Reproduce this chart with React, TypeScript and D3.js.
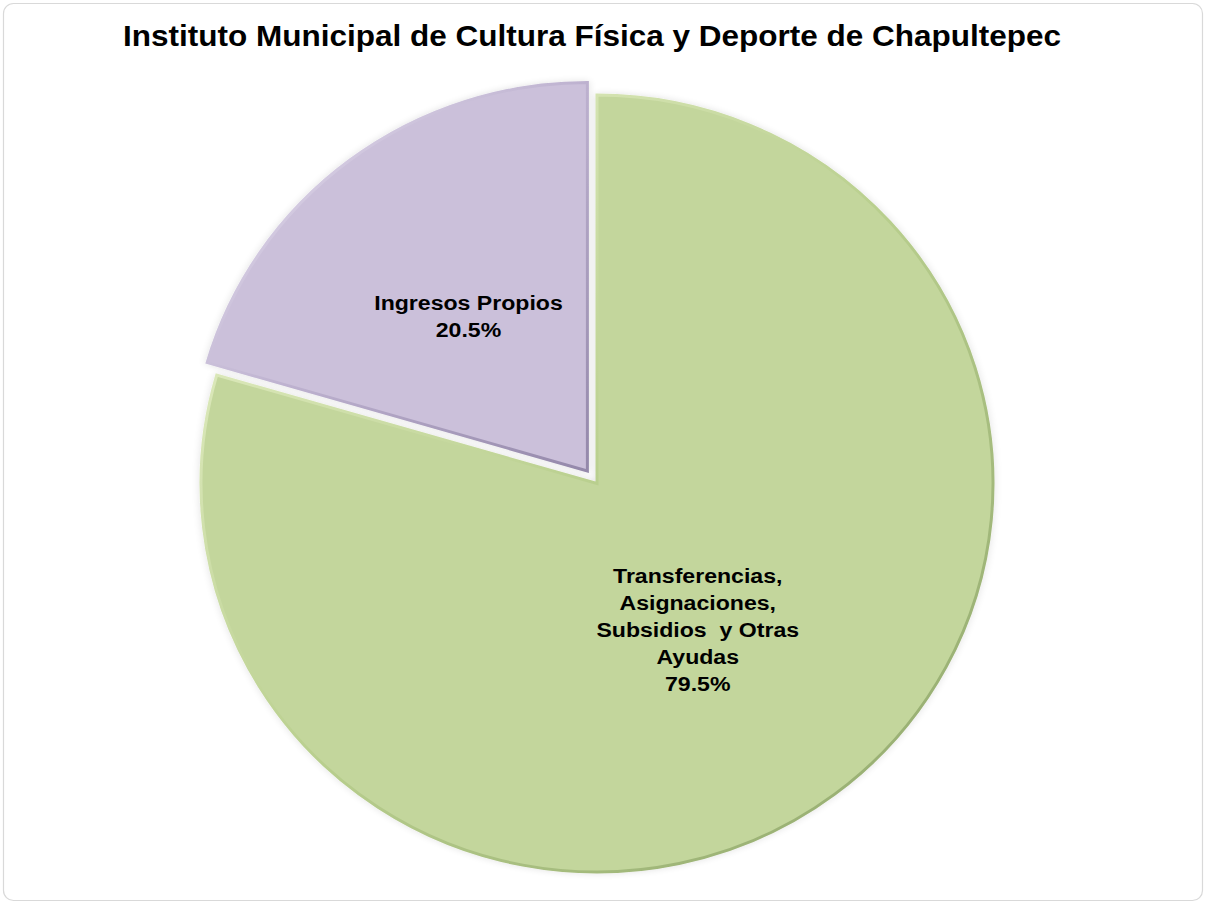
import React from "react";
import * as d3 from "d3";

const categories: string[][] = [
  ["Transferencias,", "Asignaciones,", "Subsidios  y Otras", "Ayudas"],
  ["Ingresos Propios"],
];
const values: number[] = [79.5, 20.5];
const percentLabels: string[] = ["79.5%", "20.5%"];
const fills: string[] = ["#c3d69c", "#cbc0da"];
const title = "Instituto Municipal de Cultura Física y Deporte de Chapultepec";

const W = 1206;
const H = 903;
const CX = 597;
const CY = 483.5;
const R = 396;
const SY = 388.5 / 396;
const EXPLODE = [0, 16];
const LABEL_R = [0.47, 0.5];
const LABEL_DX = [-11, 0];
const LH = 27;
const FONT = "'Liberation Sans', Arial, Helvetica, sans-serif";

export default function App() {
  const pie = d3
    .pie<number>()
    .sort(null)
    .startAngle(0)
    .endAngle(2 * Math.PI)
    .value((d) => d);
  const arcs = pie(values);
  const arc = d3.arc<d3.PieArcDatum<number>>().innerRadius(0).outerRadius(R);

  return (
    <svg
      width={W}
      height={H}
      style={{ position: "absolute", left: 0, top: 0, background: "#fff" }}
    >
      <defs>
        <linearGradient id="bevelG" x1="0" y1="0" x2="1" y2="1">
          <stop offset="0" stopColor="#eef6d2" />
          <stop offset="0.5" stopColor="#b9cf8e" />
          <stop offset="1" stopColor="#8ea56a" />
        </linearGradient>
        <linearGradient id="bevelP" x1="0" y1="0" x2="1" y2="1">
          <stop offset="0" stopColor="#ece6f4" />
          <stop offset="0.5" stopColor="#bdb1cf" />
          <stop offset="1" stopColor="#9488aa" />
        </linearGradient>
        <filter id="glow" x="-10%" y="-10%" width="120%" height="120%">
          <feGaussianBlur in="SourceAlpha" stdDeviation="4" />
          <feComponentTransfer>
            <feFuncA type="linear" slope="0.12" />
          </feComponentTransfer>
          <feMerge>
            <feMergeNode />
            <feMergeNode in="SourceGraphic" />
          </feMerge>
        </filter>
      </defs>
      <rect
        x={3.5}
        y={3.5}
        width={W - 7}
        height={H - 6}
        rx={10}
        fill="#fff"
        stroke="#d9d9d9"
        strokeWidth={1.2}
      />
      <text
        x={592}
        y={46}
        textAnchor="middle"
        fontFamily={FONT}
        fontWeight="bold"
        fontSize={30}
        fill="#000"
        textLength={938}
        lengthAdjust="spacingAndGlyphs"
      >
        {title}
      </text>
      {arcs.map((a, i) => {
        const mid = (a.startAngle + a.endAngle) / 2;
        const ox = Math.sin(mid) * EXPLODE[i];
        const oy = -Math.cos(mid) * EXPLODE[i] * SY;
        return (
          <g
            key={i}
            transform={`translate(${CX + ox},${CY + oy}) scale(1,${SY})`}
            filter="url(#glow)"
          >
            <path
              d={arc(a) || ""}
              fill={fills[i]}
              stroke={i === 0 ? "url(#bevelG)" : "url(#bevelP)"}
              strokeWidth={3}
              strokeLinejoin="miter"
            />
          </g>
        );
      })}
      {arcs.map((a, i) => {
        const mid = (a.startAngle + a.endAngle) / 2;
        const lr = R * LABEL_R[i] + EXPLODE[i];
        const lx = CX + Math.sin(mid) * lr + LABEL_DX[i];
        const ly = CY - Math.cos(mid) * lr * SY;
        const lines = [...categories[i], percentLabels[i]];
        const first = ly - ((lines.length - 1) * LH) / 2 + 7.5;
        return (
          <g key={"l" + i} transform={`translate(${lx},0) scale(1.1,1)`}>
            <text
              textAnchor="middle"
              fontFamily={FONT}
              fontWeight="bold"
              fontSize={21}
              fill="#000"
              style={{ whiteSpace: "pre" }}
            >
              {lines.map((t, j) => (
                <tspan key={j} x={0} y={first + j * LH}>
                  {t}
                </tspan>
              ))}
            </text>
          </g>
        );
      })}
    </svg>
  );
}
